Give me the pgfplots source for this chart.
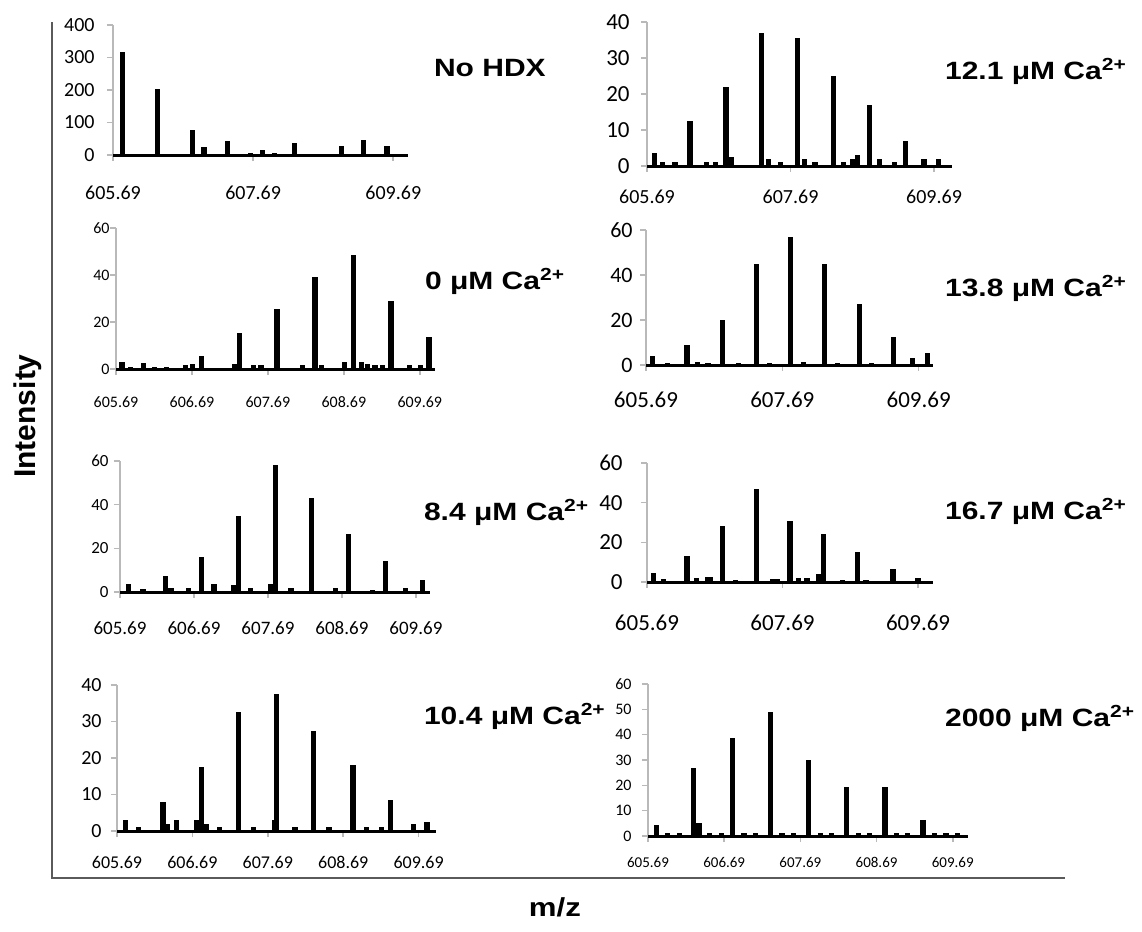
\documentclass[border=0pt]{standalone}
\usepackage{fontspec}
\setmainfont{Liberation Sans}
\newfontfamily\labfont[FakeStretch=1.2]{Liberation Sans}
\newfontfamily\tickfont{Carlito}
\usepackage{pgfplots}
\pgfplotsset{compat=1.18}
\definecolor{axgray}{RGB}{185,185,185}
\definecolor{framegray}{RGB}{90,90,90}
\newcommand{\tf}[1]{\tickfont\fontsize{#1}{#1}\selectfont}
\newcommand{\lf}{\labfont\bfseries\fontsize{12.5}{15}\selectfont}
\pgfplotsset{
  spec/.style={
    scale only axis, anchor=south west, clip=false,
    axis lines=left, axis line style={draw=axgray, line width=1pt, -},
    tick style={draw=axgray, line width=0.8pt},
    tick align=outside, major tick length=3pt,
    xmin=605.69, ymin=0,
    xticklabel style={anchor=center, inner sep=0pt, text=black},
    yticklabel style={anchor=east, inner sep=0pt, text=black},
  },
  comb/.style={ycomb, black, line width=2.6pt, mark=none},
  base/.style={black, line width=1.5pt, mark=none},
}
\begin{document}
\begin{tikzpicture}
\path[use as bounding box] (0pt,0pt) rectangle (571pt,-466pt);
\draw[framegray, line width=1pt] (26pt,-11pt) -- (26pt,-439pt) -- (532.5pt,-439pt);
\node[rotate=90, font=\bfseries\fontsize{15}{18}\selectfont] at (14pt,-208pt) {Intensity};
\node[font=\labfont\bfseries\fontsize{13}{16}\selectfont] at (277.5pt,-453.5pt) {m/z};

% Panel 1: No HDX
\begin{axis}[spec, at={(56.5pt,-77.5pt)}, width=147.5pt, height=65pt,
  xmax=609.90, ymax=400,
  xtick={605.69,607.69,609.69}, xticklabels={605.69,607.69,609.69},
  ytick={0,100,200,300,400}, yticklabels={0,100,200,300,400},
  xticklabel style={font=\tf{10}}, xticklabel shift=16pt,
  yticklabel style={font=\tf{10}}, yticklabel shift=6pt]
\addplot[comb] coordinates {(605.82,318) (606.32,202) (606.82,77) (606.99,24) (607.32,44) (607.65,7) (607.82,14) (608.0,5) (608.28,38) (608.6,4) (608.95,28) (609.27,46) (609.6,29)};
\addplot[base] coordinates {(605.69,0) (609.90,0)};
\end{axis}

% Panel 2: 12.1
\begin{axis}[spec, at={(323.5pt,-83pt)}, width=152.5pt, height=72pt,
  xmax=609.94, ymax=40,
  xtick={605.69,607.69,609.69}, xticklabels={605.69,607.69,609.69},
  ytick={0,10,20,30,40}, yticklabels={0,10,20,30,40},
  xticklabel style={font=\tf{10}}, xticklabel shift=12.5pt,
  yticklabel style={font=\tf{11.5}}, yticklabel shift=5.5pt]
\addplot[comb] coordinates {(605.80,3.5) (605.91,1) (606.08,1.2) (606.29,12.5) (606.52,1) (606.65,1.2) (606.79,22) (606.86,2.5) (607.29,37) (607.38,2) (607.55,1) (607.79,35.5) (607.88,2) (608.03,1.2) (608.29,25) (608.43,1.2) (608.55,2) (608.62,3) (608.79,17) (608.93,2) (609.14,1) (609.29,7) (609.55,2) (609.75,2)};
\addplot[base] coordinates {(605.69,0) (609.94,0)};
\end{axis}

% Panel 3: 0 uM
\begin{axis}[spec, at={(58pt,-184.5pt)}, width=159.5pt, height=70.5pt,
  xmax=609.89, ymax=60,
  xtick={605.69,606.69,607.69,608.69,609.69}, xticklabels={605.69,606.69,607.69,608.69,609.69},
  ytick={0,20,40,60}, yticklabels={0,20,40,60},
  xticklabel style={font=\tf{8}}, xticklabel shift=13.5pt,
  yticklabel style={font=\tf{8}}, yticklabel shift=0pt]
\addplot[comb] coordinates {(605.77,3) (605.88,1) (606.05,2.5) (606.2,1) (606.35,1) (606.6,1.5) (606.7,2) (606.82,5.5) (607.25,2) (607.32,15.5) (607.5,1.5) (607.6,1.5) (607.81,25.5) (608.15,1.5) (608.31,39) (608.4,1.5) (608.7,3) (608.82,48.5) (608.92,3) (609.0,2) (609.1,1.5) (609.2,1.5) (609.31,29) (609.55,1.5) (609.7,1.5) (609.81,13.5)};
\addplot[base] coordinates {(605.69,0) (609.89,0)};
\end{axis}

% Panel 4: 13.8
\begin{axis}[spec, at={(323pt,-182.5pt)}, width=143.5pt, height=67.5pt,
  xmax=609.90, ymax=60,
  xtick={605.69,607.69,609.69}, xticklabels={605.69,607.69,609.69},
  ytick={0,20,40,60}, yticklabels={0,20,40,60},
  xticklabel style={font=\tf{11.5}}, xticklabel shift=14.5pt,
  yticklabel style={font=\tf{11}}, yticklabel shift=3.5pt]
\addplot[comb] coordinates {(605.79,4) (606.0,1) (606.29,9) (606.45,1.5) (606.6,1) (606.81,20) (607.05,1) (607.31,45) (607.5,1) (607.81,57) (608.0,1.5) (608.31,45) (608.5,1) (608.82,27) (609.0,1) (609.32,12.5) (609.6,3) (609.82,5.5)};
\addplot[base] coordinates {(605.69,0) (609.90,0)};
\end{axis}

% Panel 5: 8.4
\begin{axis}[spec, at={(60pt,-296pt)}, width=155pt, height=65.5pt,
  xmax=609.88, ymax=60,
  xtick={605.69,606.69,607.69,608.69,609.69}, xticklabels={605.69,606.69,607.69,608.69,609.69},
  ytick={0,20,40,60}, yticklabels={0,20,40,60},
  xticklabel style={font=\tf{9.5}}, xticklabel shift=15pt,
  yticklabel style={font=\tf{8.5}}, yticklabel shift=2.5pt]
\addplot[comb] coordinates {(605.80,3.5) (606.0,1.5) (606.30,7.5) (606.38,2) (606.62,2) (606.79,16) (606.96,3.5) (607.22,3) (607.29,35) (607.45,2) (607.72,3.5) (607.79,58) (608.0,2) (608.28,43) (608.6,2) (608.78,26.5) (609.1,1) (609.28,14) (609.55,2) (609.78,5.5)};
\addplot[base] coordinates {(605.69,0) (609.88,0)};
\end{axis}

% Panel 6: 16.7
\begin{axis}[spec, at={(323.5pt,-291pt)}, width=143pt, height=59.5pt,
  xmax=609.91, ymax=60,
  xtick={605.69,607.69,609.69}, xticklabels={605.69,607.69,609.69},
  ytick={0,20,40,60}, yticklabels={0,20,40,60},
  xticklabel style={font=\tf{11.5}}, xticklabel shift=17.5pt,
  yticklabel style={font=\tf{11.5}}, yticklabel shift=9pt]
\addplot[comb] coordinates {(605.78,4.5) (605.93,1.5) (606.28,13) (606.42,2) (606.58,2.5) (606.63,2.5) (606.80,28) (607.0,1) (607.30,47) (607.55,1.5) (607.62,1.5) (607.80,31) (607.93,2) (608.05,2) (608.22,4) (608.30,24) (608.58,1) (608.80,15) (608.92,1) (609.32,6.5) (609.69,2)};
\addplot[base] coordinates {(605.69,0) (609.91,0)};
\end{axis}

% Panel 7: 10.4
\begin{axis}[spec, at={(58.5pt,-415.5pt)}, width=159.5pt, height=73pt,
  xmax=609.92, ymax=40,
  xtick={605.69,606.69,607.69,608.69,609.69}, xticklabels={605.69,606.69,607.69,608.69,609.69},
  ytick={0,10,20,30,40}, yticklabels={0,10,20,30,40},
  xticklabel style={font=\tf{9}}, xticklabel shift=12.5pt,
  yticklabel style={font=\tf{10}}, yticklabel shift=4.5pt]
\addplot[comb] coordinates {(605.80,3) (605.97,1) (606.30,8) (606.36,2) (606.48,3) (606.74,3) (606.81,17.5) (606.88,2) (607.05,1) (607.30,32.5) (607.5,1) (607.78,3) (607.81,37.5) (608.05,1) (608.30,27.5) (608.5,1) (608.82,18) (609.0,1) (609.2,1) (609.32,8.5) (609.62,2) (609.8,2.5)};
\addplot[base] coordinates {(605.69,0) (609.92,0)};
\end{axis}

% Panel 8: 2000
\begin{axis}[spec, at={(324pt,-418pt)}, width=160pt, height=76pt,
  xmax=609.89, ymax=60,
  xtick={605.69,606.69,607.69,608.69,609.69}, xticklabels={605.69,606.69,607.69,608.69,609.69},
  ytick={0,10,20,30,40,50,60}, yticklabels={0,10,20,30,40,50,60},
  xticklabel style={font=\tf{7.5}}, xticklabel shift=10pt,
  yticklabel style={font=\tf{8}}, yticklabel shift=5pt]
\addplot[comb] coordinates {(605.80,4.3) (605.95,1) (606.1,1) (606.29,26.7) (606.36,5) (606.5,1) (606.65,1) (606.80,38.6) (606.95,1) (607.1,1) (607.30,49) (607.45,1) (607.6,1) (607.80,30) (607.95,1) (608.1,1) (608.30,19.5) (608.45,1) (608.6,1) (608.80,19.5) (608.95,1) (609.1,1) (609.30,6.3) (609.45,1) (609.6,1) (609.75,1)};
\addplot[base] coordinates {(605.69,0) (609.89,0)};
\end{axis}

% Panel labels
\node[anchor=base west, font=\lf] at (213.5pt,-38pt) {No HDX};
\node[anchor=base west, font=\lf] at (469pt,-39.5pt) {12.1 μM Ca\textsuperscript{2+}};
\node[anchor=base west, font=\lf] at (209pt,-144.5pt) {0 μM Ca\textsuperscript{2+}};
\node[anchor=base west, font=\lf] at (469pt,-148pt) {13.8 μM Ca\textsuperscript{2+}};
\node[anchor=base west, font=\lf] at (208.5pt,-260pt) {8.4 μM Ca\textsuperscript{2+}};
\node[anchor=base west, font=\lf] at (469pt,-259.5pt) {16.7 μM Ca\textsuperscript{2+}};
\node[anchor=base west, font=\lf] at (208.5pt,-362pt) {10.4 μM Ca\textsuperscript{2+}};
\node[anchor=base west, font=\lf] at (469pt,-363pt) {2000 μM Ca\textsuperscript{2+}};
\end{tikzpicture}
\end{document}
